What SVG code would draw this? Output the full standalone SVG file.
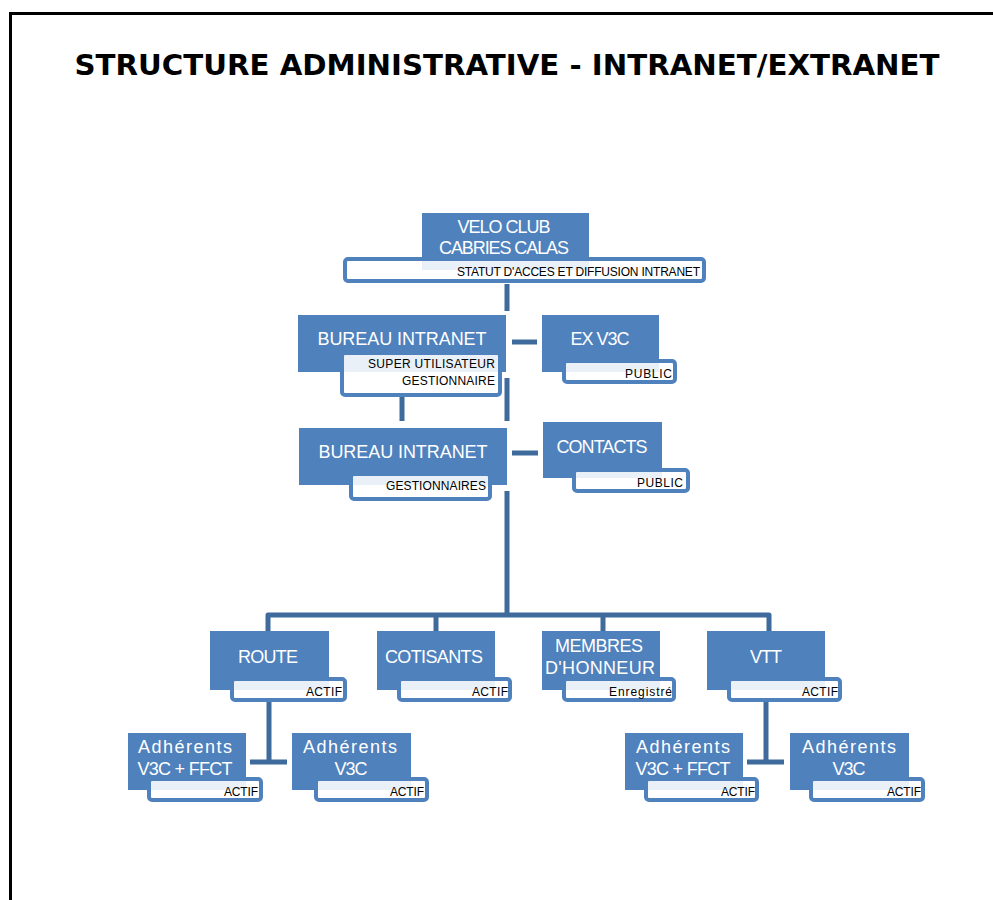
<svg xmlns="http://www.w3.org/2000/svg" width="993" height="900" viewBox="0 0 993 900">
<style>
.box{fill:#4F81BD}
.sub{fill:#ffffff;fill-opacity:0.88;stroke:#4F81BD;stroke-width:4}
.t{font-family:"Liberation Sans",Arial,sans-serif;font-size:18px;fill:#ffffff;text-anchor:middle}
.s{font-family:"Liberation Sans",Arial,sans-serif;font-size:12px;fill:#000000;text-anchor:end}
.c{fill:none;stroke:#3F6B9C;stroke-width:5;stroke-linejoin:round}
</style>
<rect x="0" y="0" width="993" height="900" fill="#ffffff"/>
<path d="M10.5,900 V13.5 H993" fill="none" stroke="#000" stroke-width="3"/>
<text x="507" y="75" font-family="'DejaVu Sans',Verdana,sans-serif" font-weight="bold" font-size="29" text-anchor="middle" textLength="865" lengthAdjust="spacingAndGlyphs">STRUCTURE ADMINISTRATIVE - INTRANET/EXTRANET</text>

<g id="connectors">
<path class="c" d="M507,284 V311"/>
<path class="c" d="M507,378 V421"/>
<path class="c" d="M402,397 V421"/>
<path class="c" d="M512,342 H537"/>
<path class="c" d="M512,453 H538"/>
<path class="c" d="M507,491 V615"/>
<path class="c" d="M268,631 V615 H769 V631"/>
<path class="c" d="M436,615 V631"/>
<path class="c" d="M603,615 V631"/>
<path class="c" d="M269,702 V762"/>
<path class="c" d="M250,762 H287"/>
<path class="c" d="M766,702 V762"/>
<path class="c" d="M747,762 H784"/>
</g>

<g id="velo">
<rect class="box" x="422" y="213" width="167" height="57"/>
<rect class="sub" x="345" y="259" width="359" height="22" rx="3"/>
<text class="t" x="504" y="233" textLength="93">VELO CLUB</text>
<text class="t" x="504" y="254" textLength="130">CABRIES CALAS</text>
<text class="s" x="700" y="276" textLength="243">STATUT D'ACCES ET DIFFUSION INTRANET</text>
</g>

<g id="bureau1">
<rect class="box" x="298" y="315" width="208" height="57"/>
<rect class="sub" x="342" y="353" width="158" height="42" rx="3"/>
<text class="t" x="402" y="345" textLength="169">BUREAU INTRANET</text>
<text class="s" x="495" y="368" textLength="127">SUPER UTILISATEUR</text>
<text class="s" x="495" y="385" textLength="93">GESTIONNAIRE</text>
</g>

<g id="exv3c">
<rect class="box" x="542" y="315" width="117" height="57"/>
<rect class="sub" x="564" y="361" width="111" height="21" rx="3"/>
<text class="t" x="600" y="345" textLength="59">EX V3C</text>
<text class="s" x="672" y="378" textLength="47">PUBLIC</text>
</g>

<g id="bureau2">
<rect class="box" x="299" y="428" width="208" height="57"/>
<rect class="sub" x="351" y="474" width="139" height="25" rx="3"/>
<text class="t" x="403" y="458" textLength="169">BUREAU INTRANET</text>
<text class="s" x="486" y="490" textLength="100">GESTIONNAIRES</text>
</g>

<g id="contacts">
<rect class="box" x="543" y="422" width="119" height="56"/>
<rect class="sub" x="574" y="470" width="114" height="21" rx="3"/>
<text class="t" x="602" y="453" textLength="91">CONTACTS</text>
<text class="s" x="683" y="487" textLength="46">PUBLIC</text>
</g>

<g id="route">
<rect class="box" x="210" y="631" width="119" height="59"/>
<rect class="sub" x="232" y="679" width="113" height="21" rx="3"/>
<text class="t" x="268" y="663" textLength="60">ROUTE</text>
<text class="s" x="342" y="696" textLength="36">ACTIF</text>
</g>

<g id="cotisants">
<rect class="box" x="377" y="631" width="118" height="59"/>
<rect class="sub" x="399" y="679" width="111" height="21" rx="3"/>
<text class="t" x="434" y="663" textLength="98">COTISANTS</text>
<text class="s" x="508" y="696" textLength="36">ACTIF</text>
</g>

<g id="membres">
<rect class="box" x="542" y="631" width="118" height="59"/>
<rect class="sub" x="564" y="679" width="110" height="21" rx="3"/>
<text class="t" x="599" y="652" textLength="88">MEMBRES</text>
<text class="t" x="600" y="674" textLength="110">D'HONNEUR</text>
<text class="s" x="672" y="696" textLength="63">Enregistré</text>
</g>

<g id="vtt">
<rect class="box" x="707" y="631" width="118" height="59"/>
<rect class="sub" x="729" y="679" width="111" height="21" rx="3"/>
<text class="t" x="766" y="663" textLength="32">VTT</text>
<text class="s" x="838" y="696" textLength="36">ACTIF</text>
</g>

<g id="route-ffct">
<rect class="box" x="128" y="733" width="118" height="57"/>
<rect class="sub" x="149" y="779" width="112" height="21" rx="3"/>
<text class="t" x="185" y="753" textLength="94">Adhérents</text>
<text class="t" x="185" y="775" textLength="95">V3C + FFCT</text>
<text class="s" x="258" y="796" textLength="34">ACTIF</text>
</g>

<g id="route-v3c">
<rect class="box" x="292" y="733" width="119" height="57"/>
<rect class="sub" x="316" y="779" width="111" height="21" rx="3"/>
<text class="t" x="350" y="753" textLength="94">Adhérents</text>
<text class="t" x="351" y="775" textLength="33">V3C</text>
<text class="s" x="424" y="796" textLength="34">ACTIF</text>
</g>

<g id="vtt-ffct">
<rect class="box" x="625" y="733" width="118" height="57"/>
<rect class="sub" x="646" y="779" width="111" height="21" rx="3"/>
<text class="t" x="683" y="753" textLength="94">Adhérents</text>
<text class="t" x="683" y="775" textLength="95">V3C + FFCT</text>
<text class="s" x="755" y="796" textLength="34">ACTIF</text>
</g>

<g id="vtt-v3c">
<rect class="box" x="790" y="733" width="119" height="57"/>
<rect class="sub" x="811" y="779" width="112" height="21" rx="3"/>
<text class="t" x="849" y="753" textLength="94">Adhérents</text>
<text class="t" x="849" y="775" textLength="33">V3C</text>
<text class="s" x="921" y="796" textLength="34">ACTIF</text>
</g>
</svg>
